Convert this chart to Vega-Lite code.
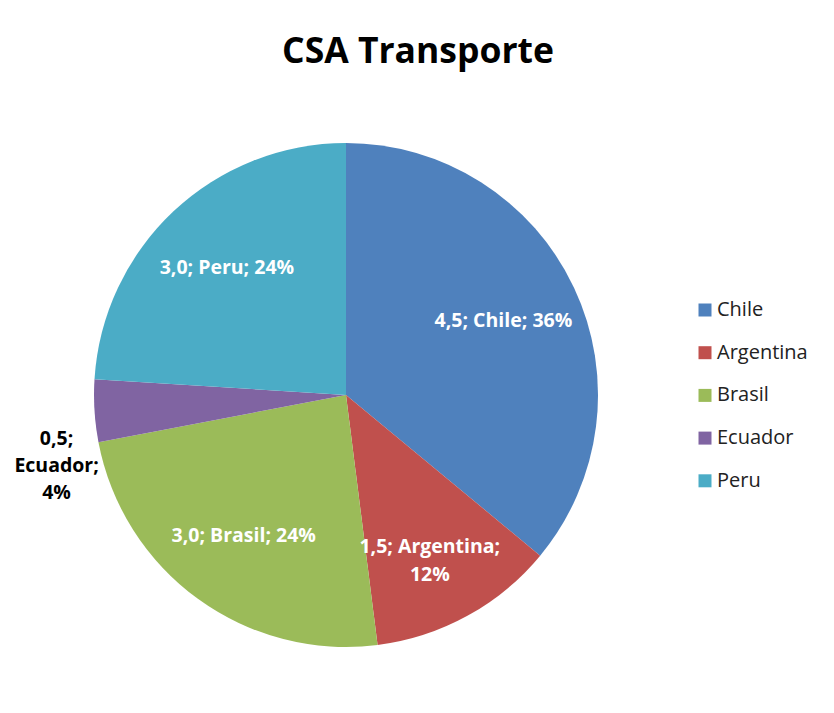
{
  "$schema": "https://vega.github.io/schema/vega-lite/v6.json",
  "width": 504,
  "height": 504,
  "autosize": {"type": "none"},
  "padding": {"left": 94, "top": 143, "right": 236, "bottom": 66},
  "background": "white",
  "title": {
    "text": "CSA Transporte",
    "font": "Open Sans",
    "fontSize": 35.5,
    "fontWeight": "bold",
    "color": "black",
    "frame": "group",
    "anchor": "middle",
    "dx": 72,
    "offset": 73
  },
  "config": {"view": {"stroke": null}},
  "data": {
    "values": [
      {"pais": "Chile", "valor": 4.5, "orden": 1, "etiqueta": "4,5; Chile; 36%"},
      {"pais": "Argentina", "valor": 1.5, "orden": 2, "etiqueta": "1,5; Argentina;\n12%"},
      {"pais": "Brasil", "valor": 3.0, "orden": 3, "etiqueta": "3,0; Brasil; 24%"},
      {"pais": "Ecuador", "valor": 0.5, "orden": 4, "etiqueta": "0,5;\nEcuador;\n4%"},
      {"pais": "Peru", "valor": 3.0, "orden": 5, "etiqueta": "3,0; Peru; 24%"}
    ]
  },
  "encoding": {
    "theta": {"field": "valor", "type": "quantitative", "stack": true},
    "order": {"field": "orden", "type": "quantitative"}
  },
  "layer": [
    {
      "mark": {"type": "arc"},
      "encoding": {
        "color": {
          "field": "pais",
          "type": "nominal",
          "scale": {
            "domain": ["Chile", "Argentina", "Brasil", "Ecuador", "Peru"],
            "range": ["#4F81BD", "#C0504D", "#9BBB59", "#8064A2", "#4BACC6"]
          },
          "legend": {
            "orient": "none",
            "legendX": 601,
            "legendY": 157,
            "title": null,
            "padding": 0,
            "symbolType": "square",
            "symbolSize": 169,
            "symbolStrokeWidth": 0,
            "labelFont": "Open Sans",
            "labelFontSize": 20,
            "labelColor": "#222222",
            "labelOffset": 2,
            "rowPadding": 22.7
          }
        }
      }
    },
    {
      "mark": {"type": "text", "radius": 174, "font": "Open Sans", "fontSize": 19.5, "fontWeight": "bold", "color": "white", "lineBreak": "\n", "lineHeight": 28},
      "encoding": {
        "text": {"field": "etiqueta"},
        "opacity": {"condition": {"test": "datum.pais === 'Ecuador'", "value": 0}, "value": 1}
      }
    },
    {
      "mark": {"type": "text", "radius": 290, "dy": 26, "font": "Open Sans", "fontSize": 19.5, "fontWeight": "bold", "color": "black", "lineBreak": "\n", "lineHeight": 27},
      "encoding": {
        "text": {"field": "etiqueta"},
        "opacity": {"condition": {"test": "datum.pais === 'Ecuador'", "value": 1}, "value": 0}
      }
    }
  ]
}
